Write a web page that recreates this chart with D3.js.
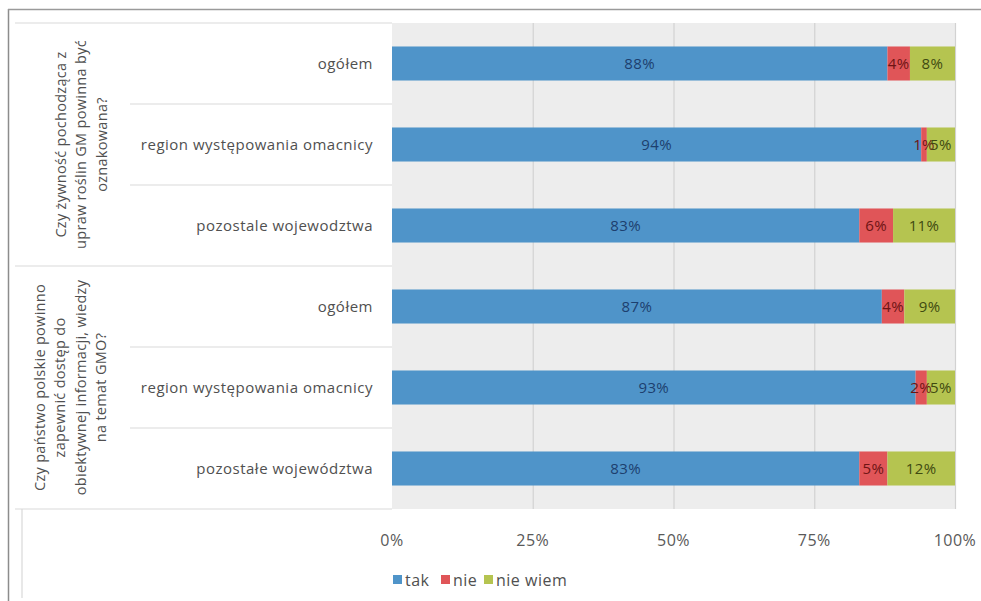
<!DOCTYPE html>
<html><head><meta charset="utf-8">
<script src="https://cdn.jsdelivr.net/npm/d3@7"></script>
<style>body{margin:0;background:#fff;} svg{display:block;font-family:"Open Sans",sans-serif;}</style>
</head><body>
<svg id="c" width="981" height="601"></svg>
<script>
const groups = [
  ["Czy żywność pochodząca z", "upraw roślin GM powinna być", "oznakowana?"],
  ["Czy państwo polskie powinno", "zapewnić dostęp do", "obiektywnej informacji, wiedzy", "na temat GMO?"]
];
const categories = ["ogółem", "region występowania omacnicy", "pozostale wojewodztwa",
                    "ogółem", "region występowania omacnicy", "pozostałe województwa"];
const groupOf = [0, 0, 0, 1, 1, 1];
const seriesNames = ["tak", "nie", "nie wiem"];
const tak = [88, 94, 83, 87, 93, 83];
const nie = [4, 1, 6, 4, 2, 5];
const nieWiem = [8, 5, 11, 9, 5, 12];
const ticks = [0, 25, 50, 75, 100];

const colors = ["#4f94c9", "#e05558", "#b5c450"];
const labelColors = ["#1d3f6e", "#6e1414", "#3f4a10"];
const series = [tak, nie, nieWiem];

const svg = d3.select("#c");
const L = 392, R = 955, T = 23, B = 509;
const x = d3.scaleLinear().domain([0, 100]).range([L, R]);
const y = d3.scaleBand().domain(d3.range(categories.length)).range([T, B]).paddingInner(0.58).paddingOuter(0.29);

// frame
svg.append("line").attr("x1", 8.5).attr("x2", 8.5).attr("y1", 9).attr("y2", 601).attr("stroke", "#8c8c8c").attr("stroke-width", 1.5);
svg.append("line").attr("x1", 8).attr("x2", 981).attr("y1", 9.5).attr("y2", 9.5).attr("stroke", "#9a9a9a").attr("stroke-width", 1.5);

// plot background
svg.append("rect").attr("x", L).attr("y", T).attr("width", R - L).attr("height", B - T).attr("fill", "#ededed");

// gridlines
svg.append("g").selectAll("line").data(ticks.slice(1)).join("line")
  .attr("x1", d => x(d) + 0.5).attr("x2", d => x(d) + 0.5).attr("y1", T).attr("y2", B)
  .attr("stroke", "#d2d2d2").attr("stroke-width", 1.2);

// stacked bars
const stack = categories.map((c, i) => {
  let acc = 0;
  return series.map((s, k) => { const v0 = acc; acc += s[i]; return {i, k, v0, v1: acc, v: s[i]}; });
});
const cells = stack.flat();
svg.append("g").selectAll("rect").data(cells).join("rect")
  .attr("x", d => x(d.v0)).attr("width", d => x(d.v1) - x(d.v0))
  .attr("y", d => y(d.i)).attr("height", y.bandwidth())
  .attr("fill", d => colors[d.k]);

svg.append("g").selectAll("text").data(cells).join("text")
  .attr("x", d => (x(d.v0) + x(d.v1)) / 2)
  .attr("y", d => y(d.i) + y.bandwidth() / 2)
  .attr("dy", "0.35em").attr("text-anchor", "middle")
  .attr("font-size", 15).attr("letter-spacing", 0.4).attr("fill", d => labelColors[d.k])
  .text(d => d.v + "%");

// category axis separators
const sep = svg.append("g").attr("stroke", "#d9d9d9").attr("stroke-width", 1.2);
const rowTop = i => T + i * (B - T) / categories.length;
[1, 2, 4, 5].forEach(i => sep.append("line").attr("x1", 130).attr("x2", L).attr("y1", rowTop(i)).attr("y2", rowTop(i)));
[0, 3, 6].forEach(i => sep.append("line").attr("x1", 15).attr("x2", L).attr("y1", rowTop(i)).attr("y2", rowTop(i)));
sep.append("line").attr("x1", 22).attr("x2", 22).attr("y1", B).attr("y2", 598);

// category labels
svg.append("g").selectAll("text").data(categories).join("text")
  .attr("x", 373).attr("y", (d, i) => y(i) + y.bandwidth() / 2).attr("dy", "0.35em")
  .attr("text-anchor", "end").attr("font-size", 15).attr("letter-spacing", 0.5)
  .attr("fill", "#505050").text(d => d);

// group labels (rotated)
groups.forEach((lines, g) => {
  const idx = groupOf.map((v, i) => v === g ? i : -1).filter(i => i >= 0);
  const cy = (rowTop(idx[0]) + rowTop(idx[idx.length - 1] + 1)) / 2;
  const cx = 81 - (lines.length - 3) * 10.5;
  const t = svg.append("text").attr("transform", `translate(${cx},${cy}) rotate(-90)`)
    .attr("text-anchor", "middle").attr("font-size", 14.5).attr("letter-spacing", 0.3).attr("fill", "#505050");
  lines.forEach((ln, j) => t.append("tspan").attr("x", 0).attr("y", (j - (lines.length - 1) / 2) * 20.5).attr("dy", "0.35em").text(ln));
});

// x axis labels
svg.append("g").selectAll("text").data(ticks).join("text")
  .attr("x", d => x(d)).attr("y", 546).attr("text-anchor", "middle")
  .attr("font-size", 16).attr("letter-spacing", 0.5).attr("fill", "#595959").text(d => d + "%");

// legend
const legX = [393, 441, 484];
const leg = svg.append("g").selectAll("g").data(seriesNames).join("g")
  .attr("transform", (d, i) => `translate(${legX[i]},580)`);
leg.append("rect").attr("x", 0).attr("y", -5).attr("width", 9).attr("height", 9).attr("fill", (d, i) => colors[i]);
leg.append("text").attr("x", 12).attr("y", 0).attr("dy", "0.35em").attr("font-size", 16).attr("letter-spacing", 0.5).attr("fill", "#505050").text(d => d);
</script>
</body></html>
